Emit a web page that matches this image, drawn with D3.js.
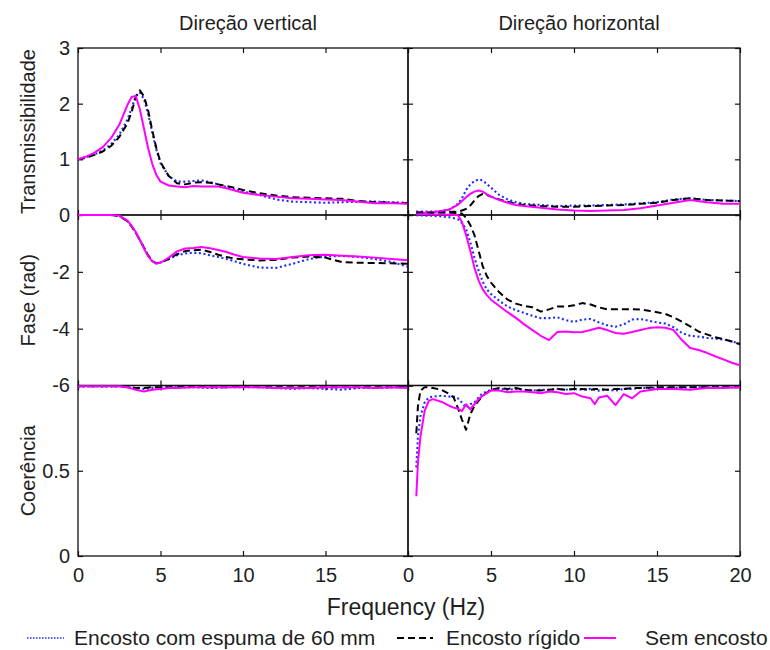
<!DOCTYPE html>
<html>
<head>
<meta charset="utf-8">
<script src="https://cdn.jsdelivr.net/npm/d3@7"></script>
<style>
  body { margin: 0; background: #fff; }
  svg text { font-family: "Liberation Sans", Arial, sans-serif; fill: #1e1e1e; }
</style>
</head>
<body>
<svg id="chart" width="770" height="650"></svg>
<script>
// ---------------- DATA ----------------
const panelTitles = ["Direção vertical", "Direção horizontal"];
const rowLabels = ["Transmissibilidade", "Fase (rad)", "Coerência"];
const seriesNames = ["Encosto com espuma de 60 mm", "Encosto rígido", "Sem encosto"];
const xTicks = [0, 5, 10, 15, 20];
const transTicks = [0, 1, 2, 3];
const phaseTicks = [-6, -4, -2, 0];
const cohTicks = [0, 0.5, 1];

// Transmissibility, vertical
const freqTV = [0,0.5,1,1.5,2,2.5,3,3.25,3.5,3.75,4,4.25,4.5,4.75,5,5.5,6,6.5,7,7.5,8,8.5,9,9.5,10,11,12,13,14,15,16,17,18,19,20];
const transVertFoam  = [1.00,1.04,1.09,1.16,1.27,1.44,1.72,1.92,2.14,2.20,2.08,1.82,1.48,1.17,0.93,0.70,0.60,0.60,0.61,0.62,0.59,0.55,0.50,0.46,0.42,0.36,0.28,0.24,0.23,0.22,0.23,0.24,0.24,0.23,0.22];
const transVertRigid = [1.00,1.03,1.08,1.14,1.24,1.40,1.65,1.85,2.12,2.24,2.13,1.88,1.52,1.20,0.95,0.70,0.57,0.55,0.58,0.59,0.58,0.55,0.52,0.49,0.45,0.39,0.35,0.32,0.31,0.30,0.29,0.25,0.23,0.22,0.21];
const transVertNone  = [1.00,1.05,1.12,1.22,1.38,1.62,1.98,2.12,2.14,1.90,1.55,1.20,0.92,0.72,0.60,0.53,0.51,0.50,0.52,0.51,0.51,0.51,0.48,0.44,0.40,0.36,0.33,0.30,0.29,0.28,0.27,0.24,0.21,0.21,0.20];

// Transmissibility, horizontal
const freqTH = [0.5,1,1.5,2,2.5,3,3.25,3.5,3.75,4,4.25,4.5,4.75,5,5.5,6,6.5,7,8,9,10,11,12,13,14,15,16,17,18,19,20];
const transHorFoam  = [0.06,0.06,0.06,0.07,0.10,0.20,0.30,0.45,0.55,0.61,0.64,0.62,0.56,0.49,0.36,0.28,0.23,0.20,0.18,0.16,0.17,0.17,0.18,0.19,0.21,0.23,0.28,0.30,0.27,0.26,0.25];
const transHorRigid = [0.05,0.05,0.05,0.05,0.06,0.06,0.08,0.11,0.17,0.26,0.34,0.38,0.36,0.33,0.28,0.24,0.20,0.18,0.16,0.15,0.15,0.16,0.17,0.18,0.20,0.22,0.27,0.30,0.27,0.26,0.25];
const transHorNone  = [0.04,0.04,0.05,0.07,0.10,0.18,0.25,0.32,0.38,0.42,0.44,0.42,0.37,0.33,0.27,0.22,0.18,0.16,0.13,0.10,0.08,0.07,0.08,0.09,0.12,0.17,0.22,0.27,0.23,0.20,0.20];

// Phase, vertical
const freqPV = freqTV;
const phaseVertFoam  = [0,0,0,0,0,-0.03,-0.22,-0.40,-0.62,-0.88,-1.15,-1.42,-1.62,-1.70,-1.67,-1.55,-1.42,-1.35,-1.33,-1.35,-1.42,-1.48,-1.55,-1.63,-1.72,-1.85,-1.86,-1.72,-1.55,-1.46,-1.44,-1.48,-1.55,-1.65,-1.82];
const phaseVertRigid = [0,0,0,0,0,-0.03,-0.22,-0.40,-0.62,-0.88,-1.15,-1.42,-1.62,-1.70,-1.67,-1.55,-1.38,-1.27,-1.24,-1.22,-1.30,-1.40,-1.48,-1.53,-1.56,-1.60,-1.58,-1.50,-1.46,-1.50,-1.66,-1.68,-1.69,-1.70,-1.72];
const phaseVertNone  = [0,0,0,0,0,-0.02,-0.20,-0.38,-0.60,-0.88,-1.18,-1.45,-1.63,-1.71,-1.68,-1.50,-1.28,-1.18,-1.16,-1.13,-1.17,-1.23,-1.30,-1.40,-1.48,-1.53,-1.55,-1.48,-1.42,-1.40,-1.43,-1.46,-1.50,-1.55,-1.59];

// Phase, horizontal
const freqPH = [0.5,1,1.5,2,2.5,3,3.25,3.5,3.75,4,4.25,4.5,4.75,5,5.5,6,6.5,7,7.5,8,8.5,9,9.5,10,10.5,11,11.5,12,12.5,13,13.5,14,14.5,15,15.5,16,16.5,17,17.5,18,18.5,19,19.5,20];
const phaseHorFoam  = [-0.01,-0.02,-0.03,-0.05,-0.08,-0.15,-0.28,-0.50,-0.95,-1.50,-1.95,-2.35,-2.62,-2.78,-3.02,-3.22,-3.35,-3.45,-3.55,-3.63,-3.63,-3.60,-3.70,-3.76,-3.68,-3.66,-3.78,-3.88,-3.93,-3.85,-3.68,-3.66,-3.72,-3.78,-3.82,-3.95,-4.15,-4.25,-4.28,-4.32,-4.35,-4.38,-4.45,-4.53];
const phaseHorRigid = [0.06,0.07,0.07,0.08,0.08,0.07,0.05,-0.10,-0.35,-0.70,-1.25,-1.80,-2.15,-2.38,-2.72,-2.98,-3.12,-3.20,-3.25,-3.40,-3.32,-3.22,-3.22,-3.18,-3.10,-3.15,-3.25,-3.32,-3.32,-3.32,-3.32,-3.33,-3.37,-3.42,-3.48,-3.60,-3.75,-3.92,-4.10,-4.20,-4.30,-4.37,-4.45,-4.55];
const phaseHorNone  = [0.03,0.03,0.02,0.02,0.01,0.00,-0.25,-0.70,-1.25,-1.85,-2.30,-2.62,-2.82,-2.98,-3.20,-3.42,-3.62,-3.85,-4.05,-4.25,-4.40,-4.12,-4.10,-4.13,-4.12,-4.05,-3.97,-4.05,-4.15,-4.18,-4.12,-4.05,-3.98,-3.95,-3.97,-4.05,-4.40,-4.68,-4.75,-4.85,-4.97,-5.08,-5.20,-5.29];

// Coherence, vertical
const freqCV = [0,0.5,1,1.5,2,2.5,3,3.5,4,4.5,5,5.5,6,7,8,9,10,11,12,13,14,15,16,17,18,19,20];
const cohVertFoam  = [0.995,0.995,0.995,0.995,0.995,0.995,0.99,0.985,0.98,0.985,0.99,0.99,0.99,0.99,0.985,0.99,0.99,0.99,0.985,0.98,0.985,0.98,0.975,0.985,0.985,0.99,0.99];
const cohVertRigid = [0.995,0.995,0.995,0.995,0.995,0.995,0.99,0.985,0.985,0.99,0.99,0.99,0.99,0.995,0.99,0.99,0.995,0.99,0.99,0.99,0.99,0.99,0.99,0.99,0.99,0.99,0.99];
const cohVertNone  = [0.995,0.995,0.995,0.995,0.995,0.995,0.99,0.975,0.965,0.975,0.98,0.985,0.985,0.99,0.99,0.99,0.99,0.99,0.985,0.985,0.985,0.99,0.99,0.99,0.985,0.99,0.985];

// Coherence, horizontal
const freqCH = [0.5,0.6,0.75,1,1.25,1.5,2,2.5,2.75,3,3.25,3.5,3.75,4,4.25,4.5,5,5.5,6,6.5,7,7.5,8,8.5,9,9.5,10,10.5,11,11.25,11.5,12,12.5,13,13.5,14,15,16,17,18,19,20];
const cohHorFoam  = [0.52,0.70,0.82,0.90,0.93,0.935,0.94,0.935,0.935,0.925,0.90,0.87,0.89,0.90,0.93,0.955,0.975,0.98,0.975,0.98,0.975,0.97,0.975,0.975,0.98,0.975,0.98,0.975,0.98,0.975,0.97,0.975,0.97,0.98,0.98,0.985,0.985,0.985,0.99,0.99,0.99,0.99];
const cohHorRigid = [0.72,0.88,0.97,0.99,0.99,0.985,0.975,0.95,0.93,0.87,0.80,0.74,0.83,0.88,0.91,0.94,0.975,0.985,0.98,0.985,0.975,0.97,0.97,0.975,0.98,0.975,0.98,0.98,0.975,0.98,0.98,0.975,0.98,0.98,0.985,0.985,0.99,0.99,0.99,0.99,0.99,0.99];
const cohHorNone  = [0.35,0.55,0.70,0.85,0.91,0.92,0.905,0.88,0.87,0.865,0.85,0.89,0.86,0.89,0.92,0.94,0.97,0.97,0.96,0.965,0.965,0.96,0.955,0.965,0.96,0.95,0.955,0.935,0.925,0.89,0.93,0.94,0.885,0.95,0.925,0.965,0.98,0.98,0.975,0.985,0.985,0.99];

// ---------------- LAYOUT ----------------
const svg = d3.select("#chart");
const colX = [[78, 408], [408, 740]];
const rowY = [[48, 215], [215, 385.5], [385.5, 556]];
const rowDomains = [[0, 3], [-6, 0], [0, 1]];
const styles = [
  { color: "#1a2cff", dash: "2,2.6", width: 2.1 },
  { color: "#000000", dash: "7,4", width: 2 },
  { color: "#ff00ff", dash: null, width: 2 }
];

const panels = [
  { row: 0, col: 0, freq: freqTV, series: [transVertFoam, transVertRigid, transVertNone] },
  { row: 0, col: 1, freq: freqTH, series: [transHorFoam, transHorRigid, transHorNone] },
  { row: 1, col: 0, freq: freqPV, series: [phaseVertFoam, phaseVertRigid, phaseVertNone] },
  { row: 1, col: 1, freq: freqPH, series: [phaseHorFoam, phaseHorRigid, phaseHorNone] },
  { row: 2, col: 0, freq: freqCV, series: [cohVertFoam, cohVertRigid, cohVertNone] },
  { row: 2, col: 1, freq: freqCH, series: [cohHorFoam, cohHorRigid, cohHorNone] }
];
const rowTicks = [transTicks, phaseTicks, cohTicks];
const rowTickLabels = [
  v => String(v),
  v => String(v),
  v => (v === 1 ? "" : String(v))
];

panels.forEach(p => {
  const x = d3.scaleLinear().domain([0, 20]).range(colX[p.col]);
  const y = d3.scaleLinear().domain(rowDomains[p.row]).range([rowY[p.row][1], rowY[p.row][0]]);
  const g = svg.append("g");

  // inner ticks, mirrored on all sides
  const tickStyle = sel => {
    sel.select(".domain").remove();
    sel.selectAll(".tick line").attr("stroke", "#111").attr("stroke-width", 1.2);
  };
  const yInner = rowTicks[p.row];
  const left = g.append("g").attr("transform", `translate(${colX[p.col][0]},0)`)
    .call(d3.axisLeft(y).tickValues(yInner).tickSize(-5).tickPadding(8)
      .tickFormat(p.col === 0 ? rowTickLabels[p.row] : () => ""));
  tickStyle(left);
  left.selectAll("text").attr("font-size", 20).attr("fill", "#1e1e1e");
  // hide phase 0 label duplicate and coherence 1 label
  if (p.col === 0 && p.row === 1) left.selectAll(".tick text").filter(d => d === 0).remove();
  if (p.col === 0 && p.row === 2) left.selectAll(".tick text").filter(d => d === 1).remove();

  const right = g.append("g").attr("transform", `translate(${colX[p.col][1]},0)`)
    .call(d3.axisRight(y).tickValues(yInner).tickSize(-5).tickFormat(() => ""));
  tickStyle(right);

  const top = g.append("g").attr("transform", `translate(0,${rowY[p.row][0]})`)
    .call(d3.axisTop(x).tickValues(xTicks).tickSize(-5).tickFormat(() => ""));
  tickStyle(top);

  const bottom = g.append("g").attr("transform", `translate(0,${rowY[p.row][1]})`)
    .call(d3.axisBottom(x).tickValues(xTicks).tickSize(-5).tickPadding(12)
      .tickFormat(p.row === 2 ? (d => (p.col === 0 && d === 20 ? "" : String(d))) : () => ""));
  tickStyle(bottom);
  bottom.selectAll("text").attr("font-size", 20).attr("fill", "#1e1e1e");

  // frame
  g.append("rect")
    .attr("x", colX[p.col][0]).attr("y", rowY[p.row][0])
    .attr("width", colX[p.col][1] - colX[p.col][0])
    .attr("height", rowY[p.row][1] - rowY[p.row][0])
    .attr("fill", "none").attr("stroke", "#111").attr("stroke-width", 1.3);

  // lines
  const line = d3.line().x((d, i) => x(p.freq[i])).y(d => y(d)).curve(d3.curveLinear);
  p.series.forEach((vals, si) => {
    const st = styles[si];
    g.append("path")
      .datum(vals)
      .attr("d", line)
      .attr("fill", "none")
      .attr("stroke", st.color)
      .attr("stroke-width", st.width)
      .attr("stroke-dasharray", st.dash)
      .attr("stroke-linejoin", "round");
  });
});

// column titles
panelTitles.forEach((t, i) => {
  svg.append("text")
    .attr("x", (colX[i][0] + colX[i][1]) / 2 + 5).attr("y", 30)
    .attr("text-anchor", "middle").attr("font-size", 20).text(t);
});

// row labels
rowLabels.forEach((t, i) => {
  const cy = (rowY[i][0] + rowY[i][1]) / 2;
  svg.append("text")
    .attr("transform", `translate(35,${cy}) rotate(-90)`)
    .attr("text-anchor", "middle").attr("font-size", 20).text(t);
});

// x axis title
svg.append("text").attr("x", 406).attr("y", 615)
  .attr("text-anchor", "middle").attr("font-size", 23).text("Frequency (Hz)");

// legend
const legendItems = [
  { x1: 27, x2: 64, tx: 74 },
  { x1: 397, x2: 433, tx: 446 },
  { x1: 584, x2: 616, tx: 645 }
];
const legendDash = ["1.5,1.5", "7,4", null];
const legendWidth = [1.5, 2, 2];
legendItems.forEach((it, i) => {
  svg.append("line").attr("x1", it.x1).attr("x2", it.x2).attr("y1", 638).attr("y2", 638)
    .attr("stroke", styles[i].color).attr("stroke-width", legendWidth[i])
    .attr("stroke-dasharray", legendDash[i]);
  svg.append("text").attr("x", it.tx).attr("y", 645).attr("font-size", 21).text(seriesNames[i]);
});
</script>
</body>
</html>
